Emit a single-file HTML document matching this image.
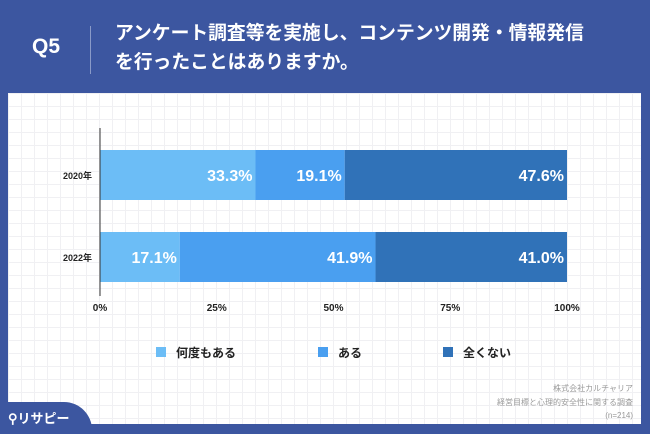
<!DOCTYPE html>
<html><head><meta charset="utf-8"><style>
html,body{margin:0;width:650px;height:434px;overflow:hidden}
body{background:#3c56a0;position:relative;font-family:"Liberation Sans","Noto Sans CJK JP",sans-serif}
.panel{position:absolute;left:8px;top:93px;width:633px;height:331px;background:#fff;
background-image:linear-gradient(#f0f0f3 1px,transparent 1px),linear-gradient(90deg,#f0f0f3 1px,transparent 1px);background-size:13px 13px}
</style></head><body>
<div>
<div style="position:absolute;left:32px;top:35px;color:#fff;font-size:21px;font-weight:bold">Q5</div>
<div style="position:absolute;left:90px;top:26px;width:1px;height:48px;background:#8a9ac8"></div>
<div style="position:absolute;left:115px;top:18px;color:#fff;font-size:18.8px;font-weight:bold;line-height:29px;white-space:nowrap">アンケート調査等を実施し、コンテンツ開発・情報発信<br>を行ったことはありますか。</div>
</div>
<div class="panel"></div>
<svg id="c" width="650" height="434" style="position:absolute;left:0;top:0"></svg>
<div style="position:absolute;left:420px;top:382px;width:213px;text-align:right;color:#999;font-size:8px;line-height:13.5px">株式会社カルチャリア<br>経営目標と心理的安全性に関する調査<br>(n=214)</div>
<div style="position:absolute;left:0;top:402px;width:92px;height:40px;background:#3c56a0;border-top-right-radius:28px"><span style="position:absolute;left:8px;top:6px;color:#fff;font-size:13px;font-weight:bold">⚲リサピー</span></div>
<script>
const categories=["2020年","2022年"];
const seriesNames=["何度もある","ある","全くない"];
const s1=[33.3,17.1];
const s2=[19.1,41.9];
const s3=[47.6,41.0];
const ticks=[0,25,50,75,100];
const colors=["#6cbdf6","#4a9ff0","#3072b8"];
const svg=document.getElementById('c');const NS="http://www.w3.org/2000/svg";
const x=v=>100+v*4.67;
const yTop=i=>150+i*82;const bh=50;
function el(t,a,txt){const e=document.createElementNS(NS,t);for(const k in a)e.setAttribute(k,a[k]);if(txt!=null)e.textContent=txt;svg.appendChild(e);return e;}
const series=[s1,s2,s3];
categories.forEach((c,i)=>{
 const lab=el('text',{x:92,y:yTop(i)+bh/2+4,'text-anchor':'end','font-size':9,'font-weight':'bold',fill:'#222'},c);
 
 
 let acc=0;
 series.forEach((s,j)=>{
  const r=el('rect',{x:x(acc),y:yTop(i),width:x(acc+s[i])-x(acc),height:bh,fill:colors[j]});
  
  
  acc+=s[i];
  const t=el('text',{x:x(acc)-3,y:yTop(i)+bh/2+6,'text-anchor':'end','font-size':16,'font-weight':'bold',fill:'#fff'},s[i].toFixed(1)+'%');
  
  
 });
});
const ax=el('line',{x1:x(0),x2:x(0),y1:128,y2:296,stroke:'#333','stroke-width':1});


ticks.forEach(v=>{
 const t=el('text',{x:x(v),y:311,'text-anchor':'middle','font-size':10,'font-weight':'bold',fill:'#222'},v+'%');
 
 
});
const lx=[156,318,443];
seriesNames.forEach((n,j)=>{
 const r=el('rect',{x:lx[j],y:347,width:10,height:10,fill:colors[j]});
 
 
 const t=el('text',{x:lx[j]+20,y:357,'font-size':12,'font-weight':'bold',fill:'#222'},n);
 
 
});
</script>
</body></html>
